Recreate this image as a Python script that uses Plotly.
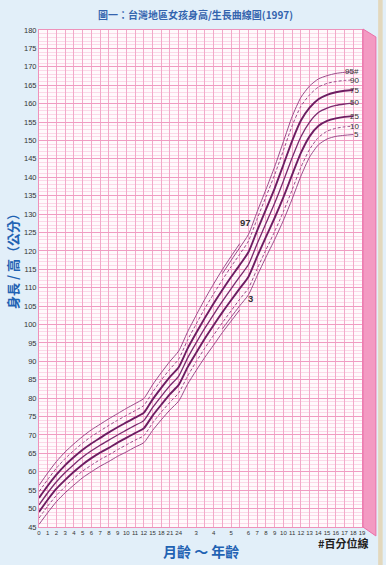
import plotly.graph_objects as go

# ---------------- data ----------------
# 0-5.5 years (months)
months_a = [0, 1, 2, 3, 4, 5, 6, 7, 8, 9, 10, 11, 12, 15, 18, 21, 24, 30, 36, 42, 48, 54, 60, 66]
p97_a = [56.3, 59.7, 62.8, 65.4, 67.6, 69.6, 71.4, 72.9, 74.4, 75.8, 77.2, 78.5, 79.9, 83.6, 86.9, 90.0, 92.8, 97.9, 102.5, 106.9, 111.0, 114.9, 118.5, 122.0]
p90_a = [54.6, 57.9, 61.0, 63.6, 65.8, 67.8, 69.6, 71.1, 72.6, 74.0, 75.3, 76.6, 78.0, 81.6, 84.9, 87.9, 90.6, 95.7, 100.1, 104.4, 108.3, 112.1, 115.7, 119.1]
p75_a = [52.9, 56.2, 59.2, 61.8, 64.0, 66.0, 67.7, 69.2, 70.7, 72.1, 73.4, 74.7, 76.0, 79.6, 82.8, 85.8, 88.4, 93.4, 97.7, 101.8, 105.7, 109.4, 112.9, 116.2]
p50_a = [51.0, 54.3, 57.3, 59.8, 62.0, 64.0, 65.7, 67.2, 68.6, 70.0, 71.3, 72.6, 73.9, 77.4, 80.5, 83.4, 86.0, 90.8, 95.0, 99.0, 102.7, 106.3, 109.7, 113.0]
p25_a = [49.1, 52.4, 55.4, 57.8, 60.0, 62.0, 63.7, 65.2, 66.5, 67.9, 69.2, 70.5, 71.8, 75.2, 78.2, 81.1, 83.6, 88.3, 92.3, 96.2, 99.8, 103.3, 106.6, 109.8]
p10_a = [47.4, 50.7, 53.6, 56.0, 58.2, 60.2, 61.8, 63.3, 64.6, 66.0, 67.3, 68.6, 69.8, 73.2, 76.2, 78.9, 81.4, 85.9, 89.9, 93.6, 97.1, 100.5, 103.7, 106.9]
p3_a = [45.7, 48.9, 51.9, 54.3, 56.4, 58.4, 60.0, 61.5, 62.8, 64.2, 65.4, 66.7, 67.9, 71.2, 74.1, 76.8, 79.2, 83.7, 87.5, 91.1, 94.4, 97.8, 100.9, 104.0]

# 6-18 years
years_b = [6, 7, 8, 9, 10, 11, 12, 13, 14, 15, 16, 17, 18]
p95_b = [124.5, 130.7, 136.7, 142.9, 149.7, 156.5, 161.7, 164.8, 166.7, 167.6, 168.2, 168.5, 168.6]
p90_b = [122.7, 128.8, 134.7, 140.7, 147.3, 154.0, 159.3, 162.4, 164.5, 165.5, 166.0, 166.3, 166.4]
p75_b = [119.7, 125.6, 131.3, 137.0, 143.4, 149.9, 155.4, 158.9, 161.2, 162.4, 163.1, 163.5, 163.7]
p50_b = [116.3, 122.0, 127.5, 133.0, 139.0, 145.3, 151.0, 155.0, 157.6, 158.8, 159.5, 159.9, 160.2]
p25_b = [113.0, 118.5, 123.8, 129.0, 134.6, 140.7, 146.6, 151.1, 153.9, 155.3, 156.0, 156.4, 156.6]
p10_b = [109.9, 115.2, 120.3, 125.3, 130.7, 136.6, 142.7, 147.6, 150.8, 152.5, 153.3, 153.7, 153.9]
p5_b = [108.1, 113.3, 118.3, 123.1, 128.3, 134.1, 140.3, 145.5, 148.8, 150.4, 151.1, 151.4, 151.6]

# early start of 95th / 5th curves
years_c = [4.5, 5, 5.5]
p95_c = [113.8, 117.4, 120.9]
p5_c = [98.8, 102.0, 105.1]

x_tick_labels = ["0", "1", "2", "3", "4", "5", "6", "7", "8", "9", "10", "11", "12",
                 "15", "18", "21", "24", "", "3", "", "4", "", "5", "",
                 "6", "7", "8", "9", "10", "11", "12", "13", "14", "15", "16", "17", "18", "19"]
end_labels = ["95#", "90", "75", "50", "25", "10", "5"]


# piecewise axis: months 0-12 one column each, 12-24 months 3 per column,
# 2-6 years half a year per column, 6-19 years one year per column
def age_pos(months):
    if months <= 12:
        return months
    if months <= 24:
        return 12 + (months - 12) / 3
    if months <= 72:
        return 16 + (months - 24) / 6
    return 24 + (months - 72) / 12


xa = [age_pos(m) for m in months_a]
xb = [age_pos(y * 12) for y in years_b]
xc = [age_pos(y * 12) for y in years_c]

THICK = "#6d1d62"
THIN = "#9a4a8a"

fig = go.Figure()


def add(x, y, color, width, dash="solid"):
    fig.add_trace(go.Scatter(x=x, y=y, mode="lines",
                             line=dict(color=color, width=width, dash=dash, shape="spline", smoothing=0.6),
                             hoverinfo="skip", showlegend=False))


add(xa, p97_a, THIN, 1)
add(xa, p3_a, THIN, 1)
add(xc + xb, p95_c + p95_b, THIN, 1)
add(xc + xb, p5_c + p5_b, THIN, 1)
add(xa + xb, p90_a + p90_b, THIN, 1, "3px,2px")
add(xa + xb, p10_a + p10_b, THIN, 1, "3px,2px")
add(xa + xb, p75_a + p75_b, THICK, 1.9)
add(xa + xb, p25_a + p25_b, THICK, 1.9)
add(xa + xb, p50_a + p50_b, "#7a2a6e", 1.3)

ends = [p95_b[-1], p90_b[-1], p75_b[-1], p50_b[-1], p25_b[-1], p10_b[-1], p5_b[-1]]
for lab, v in zip(end_labels, ends):
    fig.add_annotation(x=37, y=v, text=lab, showarrow=False, xanchor="right", yanchor="middle",
                       xshift=-1, font=dict(family="Liberation Sans", size=8, color="#333333"))

fig.add_annotation(x=23.6, y=127.8, text="<b>97</b>", showarrow=False, xanchor="center", yanchor="middle",
                   font=dict(family="Liberation Sans", size=9.5, color="#333333"))
fig.add_annotation(x=24.2, y=107.2, text="<b>3</b>", showarrow=False, xanchor="center", yanchor="middle",
                   font=dict(family="Liberation Sans", size=9.5, color="#333333"))

BLUE = "#1f62b3"
CJK = "Noto Sans CJK TC, Noto Sans CJK SC, sans-serif"
fig.add_annotation(xref="paper", yref="paper", x=0.483, y=1.032, xanchor="center", yanchor="middle",
                   text="<b>圖一：台灣地區女孩身高/生長曲線圖(1997)</b>",
                   showarrow=False, font=dict(family=CJK, size=10, color="#3464ae"))
fig.add_annotation(xref="paper", yref="paper", x=-0.084, y=0.541, xanchor="center", yanchor="middle",
                   text="<b>身長 / 高（公分）</b>", textangle=-90,
                   showarrow=False, font=dict(family=CJK, size=13, color=BLUE))
fig.add_annotation(xref="paper", yref="paper", x=0.502, y=-0.048, xanchor="center", yanchor="middle",
                   text="<b>月齡 ～ 年齡</b>",
                   showarrow=False, font=dict(family=CJK, size=14, color=BLUE))
fig.add_annotation(xref="paper", yref="paper", x=0.944, y=-0.032, xanchor="center", yanchor="middle",
                   text="<b>#百分位線</b>",
                   showarrow=False, font=dict(family=CJK, size=11, color="#222222"))

# 3D pink side strip and right border
fig.add_shape(type="path", xref="paper", yref="paper",
              path="M 1.003,1.002 L 1.043,0.986 L 1.043,-0.018 L 1.003,0 Z",
              fillcolor="#f39ac2", line=dict(color="#ea6fa8", width=1))
fig.add_shape(type="rect", xref="paper", yref="paper", x0=1.050, x1=1.064, y0=-0.08, y1=1.07,
              fillcolor="#e3d8bd", line=dict(width=0))

fig.update_xaxes(range=[0, 37], tickmode="array", tickvals=list(range(38)), ticktext=x_tick_labels,
                 tickangle=0, automargin=False,
                 showgrid=True, gridcolor="#f2a9c9", gridwidth=1, zeroline=False,
                 showline=True, linecolor="#ee92bb", mirror=True, ticks="",
                 tickfont=dict(family="Liberation Sans", size=6, color="#333333"))
fig.update_yaxes(range=[45, 180], tick0=45, dtick=5, automargin=False,
                 showgrid=True, gridcolor="#f09cc2", gridwidth=1,
                 zeroline=False, showline=True, linecolor="#ee92bb", mirror=True, ticks="",
                 minor=dict(dtick=1, showgrid=True, gridcolor="#fbd9e8", gridwidth=0.6),
                 tickfont=dict(family="Liberation Sans", size=7.5, color="#333333"))

fig.update_layout(width=386, height=565, margin=dict(l=39, r=24, t=30, b=38, autoexpand=False),
                  paper_bgcolor="#e2eff9", plot_bgcolor="#fffafc", showlegend=False)

fig.write_html("out.html", config={"displayModeBar": False},
               post_script="document.body.style.margin='0';document.body.style.overflow='hidden';")
